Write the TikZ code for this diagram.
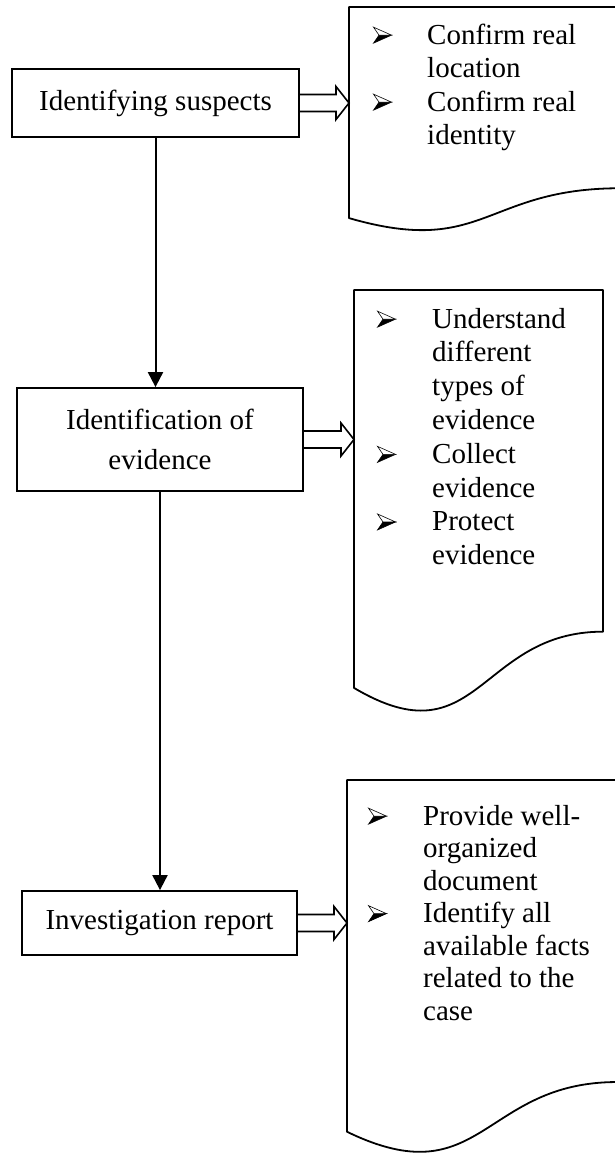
\documentclass[tikz,border=0pt]{standalone}
\usepackage{fontspec}
\setmainfont{Liberation Serif}
\usetikzlibrary{arrows.meta,calc}

% list bullet: arrowhead with an outlined upper half and a solid lower half
\newcommand\bul{\tikz[x=1pt,y=1pt,baseline=-1pt,line width=0.6pt,line join=miter]{%
  \filldraw[fill=black] (0,0) -- (18,8) -- (5.5,8) -- cycle;
  \filldraw[fill=white] (0,16) -- (18,8) -- (5.5,8) -- cycle;}}

% flowchart "document" shape: left x, top y, width, height
\newcommand\docshape[4]{%
  \draw[docline] (#1+#3,#2+0.802*#4) -- (#1+#3,#2) -- (#1,#2) -- (#1,#2+0.934*#4)
    .. controls (#1+0.5*#3,#2+1.1075*#4) and (#1+0.5*#3,#2+0.802*#4) .. (#1+#3,#2+0.802*#4) -- cycle;}

% outlined block arrow from a node anchor to a tip point at the same height
\newcommand\hollowarrow[2]{%
  \draw[hollow] ($(#1)+(0,-8.5)$) -- ($(#2)+(-13,-8.5)$) -- ($(#2)+(-13,-16.5)$) -- (#2)
    -- ($(#2)+(-13,16.5)$) -- ($(#2)+(-13,8.5)$) -- ($(#1)+(0,8.5)$);}

\begin{document}
\begin{tikzpicture}[x=1pt,y=-1pt,
  stepbox/.style={draw, line width=1.8pt, inner sep=0pt, align=center,
    font=\fontsize{29}{40}\selectfont},
  flow/.style={line width=2pt, -{Triangle[length=15pt,width=15pt]}},
  docline/.style={line width=1.8pt, line join=round},
  hollow/.style={line width=1.6pt, line join=miter},
  itemlist/.style={inner sep=0pt, anchor=north west}]
\useasboundingbox (0,0) rectangle (614,1157);

% documents holding the notes
\docshape{349}{7}{271}{226}
\docshape{354}{290}{249}{426}
\docshape{347}{780}{270}{376.6}
\coordinate (d1) at (349,7);
\coordinate (d2) at (354,290);
\coordinate (d3) at (347,780);

% process steps
\node[stepbox, minimum width=287pt, minimum height=68pt] (s1) at (155.5,103) {Identifying suspects};
\node[stepbox, minimum width=286pt, minimum height=103pt] (s2) at (160,439.5) {Identification of\\evidence};
\node[stepbox, minimum width=275pt, minimum height=64pt] (s3) at (159.5,923) {Investigation report};

% flow between steps
\draw[flow] (s1.south) -- (s1.south |- s2.north);
\draw[flow] (s2.south) -- (s2.south |- s3.north);

% block arrows to the notes
\coordinate (t1) at (s1.east -| d1);
\coordinate (t2) at (s2.east -| d2);
\coordinate (t3) at (s3.east -| d3);
\hollowarrow{s1.east}{t1}
\hollowarrow{s2.east}{t2}
\hollowarrow{s3.east}{t3}

% notes
\node[itemlist, font=\fontsize{29}{33.5}\selectfont] (n1) at (373,20.5) {%
  \begin{tabular}{@{}p{54pt}@{}l@{}}
  \bul & Confirm real\\
       & location\\
  \bul & Confirm real\\
       & identity
  \end{tabular}};
\node[itemlist, font=\fontsize{29}{33.8}\selectfont] (n2) at (377,304.3) {%
  \begin{tabular}{@{}p{55pt}@{}l@{}}
  \bul & Understand\\
       & different\\
       & types of\\
       & evidence\\
  \bul & Collect\\
       & evidence\\
  \bul & Protect\\
       & evidence
  \end{tabular}};
\node[itemlist, font=\fontsize{29}{32.5}\selectfont] (n3) at (368,802.2) {%
  \begin{tabular}{@{}p{55pt}@{}l@{}}
  \bul & Provide well-\\
       & organized\\
       & document\\
  \bul & Identify all\\
       & available facts\\
       & related to the\\
       & case
  \end{tabular}};
\end{tikzpicture}
\end{document}
